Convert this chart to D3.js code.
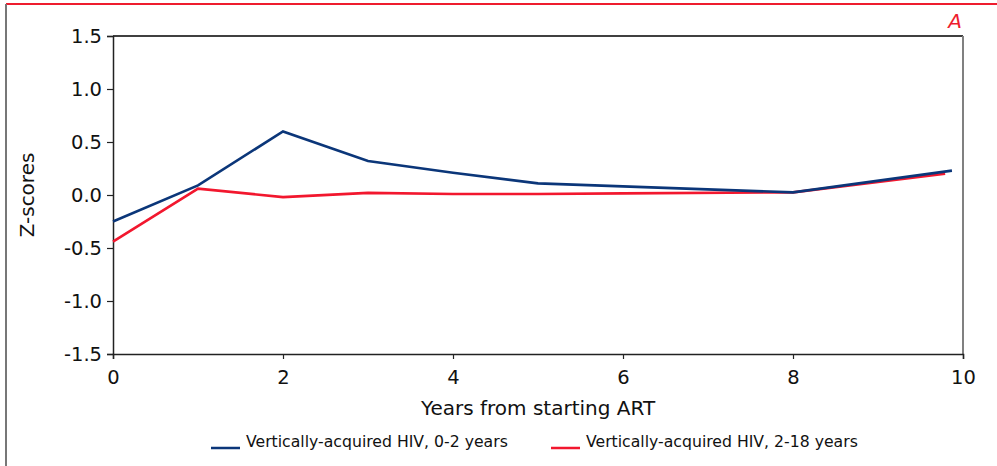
<!DOCTYPE html>
<html>
<head>
<meta charset="utf-8">
<style>
body { margin: 0; background: #fff; }
svg text { font-family: "DejaVu Sans", Verdana, sans-serif; fill: #111; }
</style>
</head>
<body>
<div id="chart"></div>
<script src="https://d3js.org/d3.v7.min.js"></script>
<script>
// values
var years02 = [0, 1, 2, 3, 4, 5, 8, 9.87];
var z02 = [-0.25, 0.09, 0.60, 0.32, 0.21, 0.11, 0.025, 0.23];
var years218 = [0, 1, 2, 3, 4, 5, 6, 8, 9.79];
var z218 = [-0.44, 0.06, -0.02, 0.02, 0.01, 0.01, 0.015, 0.025, 0.20];
var yTicks = [-1.5, -1.0, -0.5, 0.0, 0.5, 1.0, 1.5];
var xTicks = [0, 2, 4, 6, 8, 10];
var seriesNames = ["Vertically-acquired HIV, 0-2 years", "Vertically-acquired HIV, 2-18 years"];
var colors = ["#0b3679", "#f2172e"];

var W = 997, H = 466;
var svg = d3.select("#chart").append("svg").attr("width", W).attr("height", H);

var x = d3.scaleLinear().domain([0, 10]).range([113, 963]);
var y = d3.scaleLinear().domain([-1.5, 1.5]).range([354, 36]);

// page frame
svg.append("line").attr("x1", 6).attr("x2", W).attr("y1", 4).attr("y2", 4)
  .attr("stroke", "#ee1c2e").attr("stroke-width", 2);
svg.append("line").attr("x1", 6).attr("x2", 6).attr("y1", 4).attr("y2", H)
  .attr("stroke", "#777").attr("stroke-width", 2);

svg.append("text").attr("x", 962).attr("y", 28).attr("text-anchor", "end")
  .style("font-style", "italic").style("font-size", "20px").style("fill", "#ee1c2e")
  .text("A");

// plot box: black top, gray right
svg.append("line").attr("x1", x(0)).attr("x2", x(10)).attr("y1", y(1.5)).attr("y2", y(1.5))
  .attr("stroke", "#000").attr("stroke-width", 1.5);
svg.append("line").attr("x1", x(10)).attr("x2", x(10)).attr("y1", y(1.5)).attr("y2", y(-1.5))
  .attr("stroke", "#808080").attr("stroke-width", 2);

var yAxis = svg.append("g").attr("transform", "translate(" + x(0) + ",0)")
  .call(d3.axisLeft(y).tickValues(yTicks).tickSize(6).tickPadding(5)
    .tickFormat(function(d) { return d.toFixed(1); }));
var xAxis = svg.append("g").attr("transform", "translate(0," + y(-1.5) + ")")
  .call(d3.axisBottom(x).tickValues(xTicks).tickSize(5).tickPadding(11));
[yAxis, xAxis].forEach(function(a) {
  a.select(".domain").attr("stroke", "#222").attr("stroke-width", 1.5);
  a.selectAll(".tick line").attr("stroke", "#222").attr("stroke-width", 1.2);
  a.selectAll("text").style("font-size", "19.5px").style("font-family", "DejaVu Sans").attr("fill", "#111");
});

svg.append("text").attr("x", 538).attr("y", 415).attr("text-anchor", "middle")
  .style("font-size", "20px").text("Years from starting ART");
svg.append("text").attr("transform", "translate(34,195) rotate(-90)").attr("text-anchor", "middle")
  .style("font-size", "20px").text("Z-scores");

var line = d3.line().x(function(d) { return x(d[0]); }).y(function(d) { return y(d[1]); });
var data = [d3.zip(years218, z218), d3.zip(years02, z02)];
var cols = [colors[1], colors[0]];
data.forEach(function(s, i) {
  svg.append("path").datum(s).attr("d", line).attr("fill", "none")
    .attr("stroke", cols[i]).attr("stroke-width", 2.6);
});

// legend
var legX = [211, 551];
seriesNames.forEach(function(n, i) {
  svg.append("line").attr("x1", legX[i]).attr("x2", legX[i] + 29).attr("y1", 448).attr("y2", 448)
    .attr("stroke", colors[i]).attr("stroke-width", 2.5);
  svg.append("text").attr("x", legX[i] + 35).attr("y", 447).style("font-size", "15.7px").text(n);
});
</script>
</body>
</html>
